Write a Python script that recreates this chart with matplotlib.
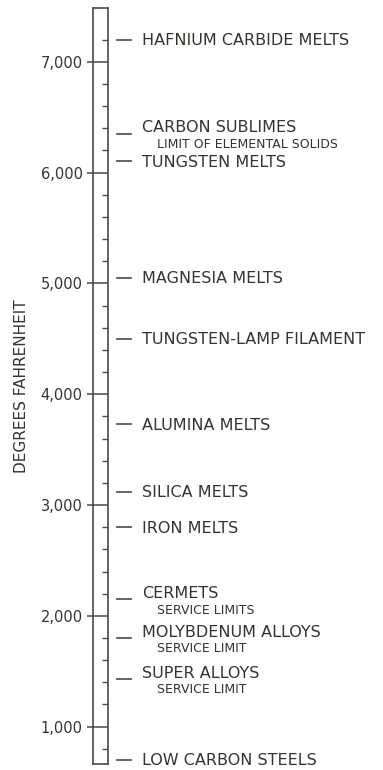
import matplotlib.pyplot as plt
from matplotlib.ticker import FixedLocator

# temperatures (deg F) of the marked events
temps = [7200, 6350, 6100, 5050, 4500, 3730, 3120, 2800, 2150, 1800, 1430, 700]
labels = [
    "HAFNIUM CARBIDE MELTS",
    "CARBON SUBLIMES",
    "TUNGSTEN MELTS",
    "MAGNESIA MELTS",
    "TUNGSTEN-LAMP FILAMENT",
    "ALUMINA MELTS",
    "SILICA MELTS",
    "IRON MELTS",
    "CERMETS",
    "MOLYBDENUM ALLOYS",
    "SUPER ALLOYS",
    "LOW CARBON STEELS",
]
sublabels = [
    "",
    "LIMIT OF ELEMENTAL SOLIDS",
    "",
    "",
    "",
    "",
    "",
    "",
    "SERVICE LIMITS",
    "SERVICE LIMIT",
    "SERVICE LIMIT",
    "",
]
major_ticks = [1000, 2000, 3000, 4000, 5000, 6000, 7000]
major_labels = ["1,000", "2,000", "3,000", "4,000", "5,000", "6,000", "7,000"]
minor_ticks = list(range(800, 7201, 200))


def main() -> None:
    line_col = "#4a4a42"
    text_col = "#34342e"

    fig = plt.figure(figsize=(3.83, 7.70), dpi=100)
    # the thermometer bar is the axes itself
    ax = fig.add_axes([93 / 383, 6 / 770, 15 / 383, 756 / 770])
    ax.set_xlim(0, 1)
    ax.set_ylim(663, 7485)
    ax.set_xticks([])
    for s in ax.spines.values():
        s.set_color(line_col)
        s.set_linewidth(1.2)

    ax.set_yticks(major_ticks, labels=major_labels)
    ax.yaxis.set_minor_locator(FixedLocator(minor_ticks))
    ax.tick_params(axis="y", which="major", direction="out", length=4.5,
                   width=1.1, color=line_col, labelsize=10.5,
                   labelcolor=text_col, pad=3)
    ax.tick_params(axis="y", which="minor", left=False, right=True,
                   direction="in", length=4.2, width=1.0, color=line_col)
    ax.grid(axis="y", which="major", color=line_col, linewidth=1.1)

    ax.set_ylabel("DEGREES FAHRENHEIT", fontsize=11, color=text_col)
    ax.yaxis.set_label_coords(-4.3, 0.5)

    trans = ax.get_yaxis_transform()
    for t, lab, sub in zip(temps, labels, sublabels):
        ax.plot([1.6, 2.53], [t, t], transform=trans, clip_on=False,
                color=line_col, linewidth=1.2)
        dy = 1 if sub else -4
        ax.annotate(lab, xy=(3.27, t), xycoords=trans, xytext=(0, dy),
                    textcoords="offset points", ha="left", va="baseline",
                    fontsize=11.5, color=text_col)
        if sub:
            ax.annotate(sub, xy=(4.27, t), xycoords=trans, xytext=(0, -10.3),
                        textcoords="offset points", ha="left", va="baseline",
                        fontsize=9, color=text_col)

    plt.savefig("out.png", dpi=100)


if __name__ == "__main__":
    main()
